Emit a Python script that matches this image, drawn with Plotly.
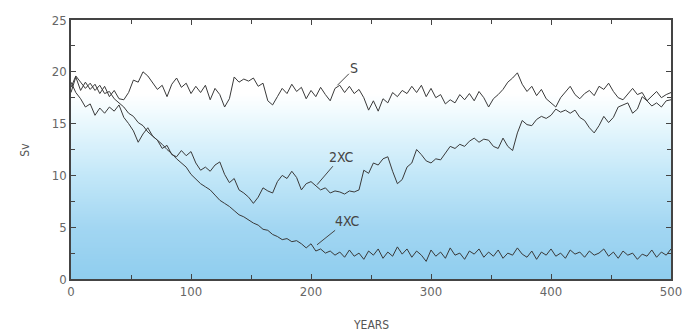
import numpy as np
import plotly.graph_objects as go

YEARS = list(range(0, 501, 4))

S_VALUES = [18.0, 19.5, 18.2, 19.0, 18.3, 18.8, 17.9, 18.6, 17.6, 18.2, 17.4, 17.3, 18.0, 19.2, 19.0, 20.0,
            19.6, 18.9, 18.3, 18.7, 17.6, 18.8, 19.4, 18.5, 18.9, 17.9, 18.6, 18.0, 18.7, 17.3, 18.4, 17.8,
            16.6, 17.4, 19.5, 19.0, 19.3, 19.1, 19.4, 18.6, 18.9, 17.2, 16.8, 17.6, 18.4, 17.9, 18.8, 18.1,
            18.5, 17.4, 18.2, 17.6, 18.5, 17.8, 17.2, 18.4, 18.7, 18.0, 18.6, 17.9, 18.3, 17.5, 16.3, 17.2,
            16.2, 17.4, 17.0, 18.0, 17.6, 18.2, 17.9, 18.6, 18.0, 18.7, 17.6, 18.4, 17.5, 17.8, 16.9, 17.3,
            17.0, 17.8, 17.3, 17.9, 17.2, 18.1, 17.5, 16.6, 17.4, 17.8, 18.3, 19.0, 19.4, 19.9, 18.8, 18.1,
            18.6, 17.7, 18.3, 17.4, 17.0, 16.6, 17.5, 18.0, 18.6, 17.8, 17.4, 17.9, 18.2, 17.7, 18.6, 18.3,
            18.9, 18.1, 17.5, 17.3, 17.9, 18.4, 17.8, 18.0, 17.2, 17.7, 18.1, 17.5, 17.8, 18.0]

XC2_VALUES = [19.0, 18.0, 17.4, 16.6, 16.9, 15.8, 16.5, 16.0, 16.6, 16.2, 16.8, 15.6, 15.0, 14.3, 13.2, 14.0,
              14.6, 13.8, 13.4, 12.6, 12.9, 12.0, 11.8, 12.4, 11.9, 12.3, 11.2, 10.5, 10.8, 10.4, 11.0, 11.3,
              10.1, 9.3, 9.7, 8.6, 8.3, 7.9, 7.3, 7.9, 8.8, 8.5, 8.3, 9.4, 10.0, 9.7, 10.4, 9.8,
              8.6, 9.2, 9.4, 9.0, 8.6, 8.8, 8.3, 8.5, 8.4, 8.2, 8.5, 8.4, 8.6, 10.5, 10.2, 11.2,
              11.0, 11.6, 11.8, 10.4, 9.2, 9.6, 10.8, 11.2, 12.5, 12.0, 11.4, 11.2, 11.6, 11.5, 12.2, 12.8,
              12.6, 13.0, 12.8, 13.3, 13.6, 13.2, 13.5, 13.4, 12.8, 12.6, 13.6, 12.8, 12.4, 14.1, 15.3, 14.9,
              14.8, 15.4, 15.7, 15.5, 15.8, 16.4, 16.1, 16.3, 16.0, 16.3, 15.6, 15.3, 14.6, 14.1, 14.8, 15.7,
              15.1, 15.6, 16.6, 16.8, 17.0, 16.0, 16.4, 17.6, 17.2, 16.7, 17.0, 16.6, 17.2, 17.3]

XC4_VALUES = [18.5, 19.6, 19.0, 18.4, 18.9, 18.2, 18.7, 17.9, 18.1, 17.4, 17.0, 16.6, 16.0, 15.7, 15.1, 14.8,
              14.2, 13.8, 13.4, 13.0, 12.5, 12.1, 11.6, 11.2, 10.8, 10.1, 9.6, 9.2, 8.9, 8.6, 8.1, 7.6,
              7.3, 7.0, 6.6, 6.2, 6.0, 5.7, 5.4, 5.2, 4.8, 4.7, 4.3, 4.1, 3.8, 3.9, 3.6, 3.7,
              3.4, 3.0, 3.4, 2.7, 2.9, 2.5, 2.7, 2.3, 2.6, 2.1, 2.8, 2.2, 2.5, 1.9, 2.7, 2.3,
              2.9, 2.0, 2.6, 2.2, 3.1, 2.4, 2.9, 2.1, 2.7, 2.3, 1.7, 2.8, 2.2, 2.6, 2.0, 3.0,
              2.3, 2.5, 1.9, 2.7, 2.4, 2.9, 2.1, 2.6, 2.2, 2.8, 2.0, 2.5, 2.3, 3.0, 2.4, 2.1,
              2.7, 1.9, 2.6, 2.3, 2.9, 2.2, 2.5, 2.0, 2.8, 2.4, 2.6, 2.1, 2.7, 2.3, 2.5, 2.9,
              2.2, 2.6, 2.0, 2.7, 2.3, 2.5, 1.9, 2.4, 2.2, 2.8, 2.1, 2.6, 2.3, 2.9]

X_TICKS = [0, 100, 200, 300, 400, 500]
Y_TICKS = [0, 5, 10, 15, 20, 25]

# background gradient (value-driven heatmap)
bg_y = np.linspace(-1, 26, 55)
bg_z = [[v, v] for v in bg_y]

LINE_COLOR = "#3a3a3a"
FONT = "Liberation Sans Narrow, DejaVu Sans Condensed, Arial Narrow, sans-serif"

fig = go.Figure()
fig.add_trace(go.Heatmap(
    x=[-10, 510], y=bg_y, z=bg_z, zsmooth="best", showscale=False, hoverinfo="skip",
    zmin=0, zmax=25,
    colorscale=[[0.0, "#8fcdee"], [0.2, "#a2d6f2"], [0.4, "#c2e7f8"], [0.56, "#e0f4fc"],
                [0.66, "#f4fcfe"], [0.72, "#ffffff"], [1.0, "#ffffff"]],
))
for vals in (S_VALUES, XC2_VALUES, XC4_VALUES):
    fig.add_trace(go.Scatter(x=YEARS, y=vals, mode="lines",
                             line=dict(color=LINE_COLOR, width=1), showlegend=False,
                             hoverinfo="skip"))

ann_font = dict(family=FONT, size=14, color="#444")
for txt, x, y, ax, ay in [("S", 222, 18.7, 17, -17), ("2XC", 205, 9.1, 24, -28), ("4XC", 205, 3.3, 30, -24)]:
    fig.add_annotation(x=x, y=y, text=txt, showarrow=True, arrowhead=0, arrowwidth=1,
                       arrowcolor="#444", ax=ax, ay=ay, font=ann_font)

fig.add_annotation(text="Sv", xref="paper", yref="paper", x=-0.093, y=0.5, showarrow=False,
                   textangle=-90, font=dict(family=FONT, size=12, color="#555"))
fig.add_annotation(text="YEARS", xref="paper", yref="paper", x=0.5, y=-0.178, yanchor="middle",
                   showarrow=False, font=dict(family=FONT, size=12, color="#555"))

axis_common = dict(showline=True, linecolor="#444", linewidth=1.5, mirror="allticks",
                   ticks="inside", tickcolor="#444", ticklen=5, showgrid=False, zeroline=False,
                   automargin=False,
                   tickfont=dict(family=FONT, size=13, color="#666"))
fig.update_xaxes(range=[0, 500], tickvals=X_TICKS, ticktext=[str(t) for t in X_TICKS],
                 minor=dict(dtick=50, ticks="inside", ticklen=4, tickcolor="#444", showgrid=False),
                 **axis_common)
fig.update_yaxes(range=[0, 25], tickvals=Y_TICKS, ticktext=[str(t) for t in Y_TICKS],
                 minor=dict(dtick=2.5, ticks="inside", ticklen=4, tickcolor="#444", showgrid=False),
                 **axis_common)

fig.update_layout(width=685, height=332, margin=dict(l=71, r=14, t=20, b=53),
                  paper_bgcolor="white", plot_bgcolor="white", showlegend=False)
fig.write_html("out.html")
